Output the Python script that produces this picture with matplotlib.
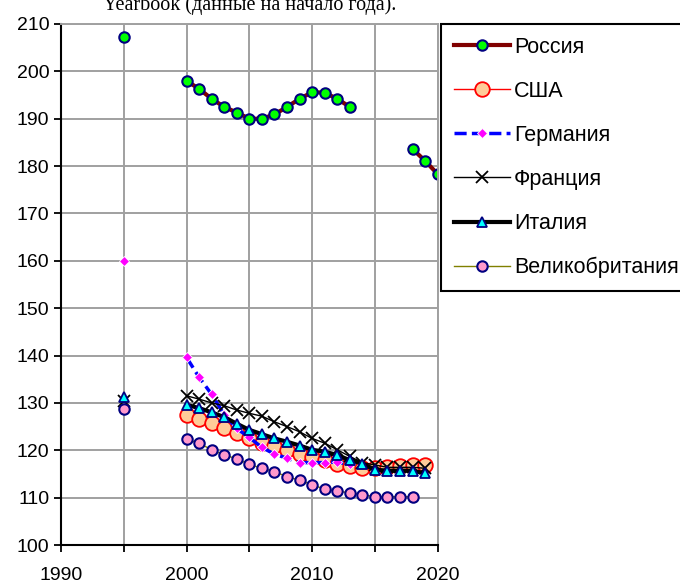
import numpy as np
import matplotlib
matplotlib.use("Agg")
import matplotlib.pyplot as plt
from matplotlib.ticker import MultipleLocator

nan = np.nan

# years 1995..2020, gaps are missing values
years = list(range(1995, 2021))

russia = [207.3, nan, nan, nan, nan,
          198.0, 196.3, 194.2, 192.5, 191.3, 190.0, 190.0, 190.9, 192.5, 194.2,
          195.6, 195.5, 194.2, 192.5, nan, nan, nan, nan, 183.6, 181.1, 178.3]
usa = [nan, nan, nan, nan, nan,
       127.4, 126.5, 125.7, 124.7, 123.6, 122.6, 121.6, 120.8, 120.0, 119.3,
       118.6, 117.9, 117.2, 116.6, 116.3, 116.2, 116.4, 116.6, 116.8, 116.8, nan]
germany = [160.0, nan, nan, nan, nan,
           139.6, 135.4, 131.8, 127.5, 124.6, 122.7, 120.6, 119.2, 118.3, 117.4,
           117.4, 117.4, 117.5, 117.0, nan, nan, nan, nan, nan, nan, nan]
france = [130.5, nan, nan, nan, nan,
          131.5, 130.8, 130.0, 129.4, 128.5, 127.8, 127.2, 126.0, 125.0, 123.9,
          122.5, 121.5, 120.1, 118.7, 117.4, 116.9, 116.4, 116.4, 116.4, 116.2, nan]
italy = [131.3, nan, nan, nan, nan,
         129.6, 128.9, 128.0, 127.0, 125.6, 124.3, 123.4, 122.5, 121.8, 121.0,
         120.1, 119.7, 119.0, 117.9, 117.2, 115.9, 115.7, 115.7, 115.7, 115.1, nan]
uk = [128.7, nan, nan, nan, nan,
      122.3, 121.5, 120.1, 119.0, 118.2, 117.0, 116.2, 115.5, 114.4, 113.7,
      112.7, 111.8, 111.4, 111.0, 110.6, 110.2, 110.2, 110.2, 110.2, nan, nan]

labels = ['Россия', 'США', 'Германия', 'Франция', 'Италия', 'Великобритания']

plt.rcParams['font.family'] = ['Liberation Sans', 'DejaVu Sans']

fig = plt.figure(figsize=(6.8, 5.85), dpi=100)
ax = fig.add_axes([61 / 680, 1 - 545 / 585, (437.7 - 61) / 680, (545 - 24) / 585])

ax.plot(years, russia, color='#800000', lw=3, marker='o', ms=7.5,
        mfc='#00FF00', mec='#000080', mew=1.5, label=labels[0])
ax.plot(years, usa, color='#FF0000', lw=1, marker='o', ms=10.5,
        mfc='#FFCC99', mec='#FF0000', mew=1.3, label=labels[1])
ax.plot(years, germany, color='#0000FF', lw=2.5, ls=(0, (3.5, 1.5)), marker='D', ms=5,
        mfc='#FF00FF', mec='white', mew=0.6, label=labels[2])
ax.plot(years, france, color='black', lw=1, marker='x', ms=9,
        mec='black', mew=1.3, label=labels[3])
ax.plot(years, italy, color='black', lw=3, marker='^', ms=6.5,
        mfc='#00FFFF', mec='#000080', mew=1.3, label=labels[4])
ax.plot(years, uk, color='#808000', lw=1, marker='o', ms=7.5,
        mfc='#FF99CC', mec='#000080', mew=1.5, label=labels[5])

ax.set_xlim(1990, 2020)
ax.set_ylim(100, 210)
ax.xaxis.set_major_locator(MultipleLocator(10))
ax.xaxis.set_minor_locator(MultipleLocator(5))
ax.yaxis.set_major_locator(MultipleLocator(10))
ax.grid(True, which='both', color='#A0A0A0', lw=1.4)
ax.set_axisbelow(True)
ax.tick_params(axis='both', which='both', direction='out', length=5, width=1.3,
               color='black', labelsize=14)
ax.tick_params(axis='x', pad=11)
for side in ['top', 'right']:
    ax.spines[side].set_color('#A0A0A0')
    ax.spines[side].set_linewidth(1.4)
for side in ['left', 'bottom']:
    ax.spines[side].set_color('black')
    ax.spines[side].set_linewidth(1.5)

leg = fig.legend(loc='upper left', bbox_to_anchor=(441 / 680, 1 - 24 / 585),
                 numpoints=1, fontsize=15.5, frameon=True, fancybox=False,
                 edgecolor='black', framealpha=1, handlelength=2.6,
                 handletextpad=0.2, labelspacing=1.07, borderpad=0.6,
                 borderaxespad=0)
leg.get_frame().set_linewidth(1.5)

fig.text(103 / 680, 1 - 10 / 585, 'Yearbook (данные на начало года).',
         family=['Liberation Serif', 'DejaVu Serif'], fontsize=14.5, va='baseline')

fig.savefig('out.png', dpi=100)
